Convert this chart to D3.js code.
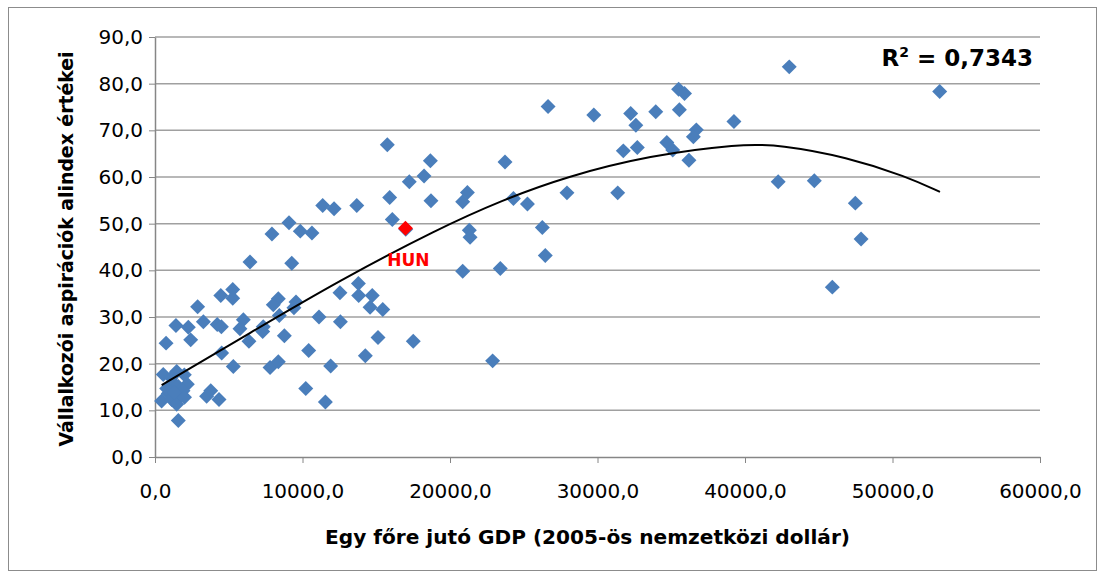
<!DOCTYPE html>
<html>
<head>
<meta charset="utf-8">
<script src="https://cdn.jsdelivr.net/npm/d3@7"></script>
<style>
  body { margin: 0; background: #fff; }
  svg text { font-family: "DejaVu Sans", sans-serif; }
</style>
</head>
<body>
<svg id="chart" width="1103" height="578"></svg>
<script>
// GDP per capita (x) and aspiration sub-index (y)
var gdp = [43000, 53200, 35500, 35900, 26650, 29750, 32250, 33950, 35550, 32600,
    39250, 36700, 36500, 34700, 35100, 31750, 32700, 36200, 23730, 42250,
    44700, 47480, 47870, 45920, 21180, 20860, 24300, 25250, 27930, 31370,
    21310, 21360, 26260, 26460, 20860, 23410, 22890,
    15750, 18670, 18240, 17240, 15910, 18710, 11370, 12140, 13680, 16090,
    17000, 9085, 7930, 9850, 10640, 6440, 9270, 13790, 12540, 13810,
    14730, 14580, 15440, 11120, 12570, 15120, 17510, 10420, 14260, 11910,
    10220, 11550,
    5270, 5270, 8360, 8020, 9560, 9420, 8430, 5990, 5760, 7340,
    7300, 6370, 8770, 5310, 7800, 8360, 4460, 2890, 1420, 2260,
    3280, 4220, 4500, 2420, 750, 4520, 560, 1470, 1990, 2190,
    450, 900, 1130, 1470, 1810, 1580, 1240, 790, 3500, 3780,
    4340, 1580, 1100, 1900, 1300, 2000];
var aspiration = [83.6, 78.3, 78.8, 77.9, 75.1, 73.3, 73.6, 74.0, 74.4, 71.1,
    71.9, 70.1, 68.6, 67.4, 65.8, 65.6, 66.3, 63.6, 63.2, 59.0,
    59.2, 54.4, 46.7, 36.4, 56.7, 54.7, 55.4, 54.2, 56.6, 56.6,
    48.6, 47.1, 49.2, 43.2, 39.8, 40.4, 20.6,
    66.9, 63.5, 60.2, 59.0, 55.6, 54.9, 53.9, 53.2, 53.9, 50.9,
    48.8, 50.2, 47.8, 48.4, 48.0, 41.8, 41.5, 37.2, 35.2, 34.6,
    34.6, 32.1, 31.6, 30.0, 29.0, 25.6, 24.8, 22.8, 21.7, 19.5,
    14.7, 11.8,
    35.9, 34.0, 33.9, 32.6, 33.2, 32.0, 30.3, 29.4, 27.5, 27.9,
    26.9, 24.8, 26.0, 19.4, 19.2, 20.4, 34.6, 32.2, 28.2, 27.8,
    29.0, 28.4, 27.9, 25.1, 24.4, 22.3, 17.7, 18.3, 17.6, 15.6,
    12.0, 13.6, 12.3, 11.3, 13.3, 15.1, 15.9, 14.7, 13.0, 14.2,
    12.3, 7.8, 17.0, 14.2, 13.8, 12.8];

// Hungary
var hunGdp = 16980, hunValue = 49.0;

// trend line
var trendX = [450, 6440, 12540, 19190, 23500, 27900, 33500, 39660, 42380, 46900, 50960, 53220];
var trendY = [15.4, 26.6, 37.9, 48.9, 55.0, 60.1, 64.6, 67.1, 66.9, 64.3, 60.1, 56.8];

var xTicks = [0, 10000, 20000, 30000, 40000, 50000, 60000];
var yTicks = [0, 10, 20, 30, 40, 50, 60, 70, 80, 90];

var svg = d3.select('#chart');
var margin = {top: 37, right: 63, bottom: 121, left: 155};
var width = 1103 - margin.left - margin.right,
    height = 578 - margin.top - margin.bottom;

// outer frame
svg.append('rect')
    .attr('x', 8.5).attr('y', 7.5)
    .attr('width', 1088).attr('height', 563)
    .attr('fill', 'none').attr('stroke', '#8c8c8c').attr('stroke-width', 1);

var g = svg.append('g')
    .attr('transform', 'translate(' + margin.left + ',' + margin.top + ')');

var x = d3.scaleLinear().domain([0, 60000]).range([0, width]);
var y = d3.scaleLinear().domain([0, 90]).range([height, 0]);

var fmt = function(d){ return d3.format('.1f')(d).replace('.', ','); };

// gridlines
g.append('g')
    .selectAll('line')
    .data(yTicks.slice(1))
    .enter()
    .append('line')
        .attr('x1', 0).attr('x2', width)
        .attr('y1', function(d){ return y(d); })
        .attr('y2', function(d){ return y(d); })
        .attr('stroke', '#a0a0a0')
        .attr('stroke-width', 1.5);

// y axis
var yAxis = g.append('g')
    .call(d3.axisLeft(y).tickValues(yTicks).tickFormat(fmt).tickSize(6).tickSizeOuter(0));
yAxis.select('.domain').attr('stroke', '#868686').attr('stroke-width', 1.5);
yAxis.selectAll('line').attr('stroke', '#868686');
yAxis.selectAll('text')
    .attr('x', -12)
    .style('font-family', '"DejaVu Sans", sans-serif')
    .style('font-size', '20px')
    .style('fill', '#000');

// x axis
var xAxis = g.append('g')
    .attr('transform', 'translate(0,' + height + ')')
    .call(d3.axisBottom(x).tickValues(xTicks).tickFormat(fmt).tickSize(6).tickSizeOuter(0));
xAxis.select('.domain').attr('stroke', '#868686').attr('stroke-width', 1.5);
xAxis.selectAll('line').attr('stroke', '#868686');
xAxis.selectAll('text')
    .attr('y', 27)
    .style('font-family', '"DejaVu Sans", sans-serif')
    .style('font-size', '20px')
    .style('fill', '#000');

// points
var diamond = d3.symbol().type(d3.symbolSquare).size(112);
g.selectAll('.pt')
    .data(gdp)
    .enter()
    .append('path')
        .attr('class', 'pt')
        .attr('d', diamond)
        .attr('transform', function(d, i){
            return 'translate(' + x(gdp[i]) + ',' + y(aspiration[i]) + ') rotate(45)';
        })
        .attr('fill', '#4a7ebb');

// trend
var trend = d3.line()
    .x(function(d, i){ return x(trendX[i]); })
    .y(function(d, i){ return y(trendY[i]); })
    .curve(d3.curveBasis);
g.append('path')
    .datum(trendX)
    .attr('d', trend)
    .attr('fill', 'none')
    .attr('stroke', '#000')
    .attr('stroke-width', 2);

// Hungary marker and label
g.append('path')
    .attr('d', diamond)
    .attr('transform', 'translate(' + x(hunGdp) + ',' + y(hunValue) + ') rotate(45)')
    .attr('fill', '#ff0000');
g.append('text')
    .text('HUN')
    .attr('x', x(hunGdp) + 3)
    .attr('y', y(hunValue) + 38)
    .attr('text-anchor', 'middle')
    .style('font-size', '17px')
    .style('font-weight', 'bold')
    .style('fill', '#ff0000');

// R squared
g.append('text')
    .attr('x', width - 7)
    .attr('y', 29)
    .attr('text-anchor', 'end')
    .style('font-size', '23px')
    .style('font-weight', 'bold')
    .html('R<tspan dy="-9" font-size="14px">2</tspan><tspan dy="9"> = 0,7343</tspan>');

// axis titles
svg.append('text')
    .text('Egy főre jutó GDP (2005-ös nemzetközi dollár)')
    .attr('x', margin.left + width / 2 - 10)
    .attr('y', 544)
    .attr('text-anchor', 'middle')
    .attr('textLength', 525)
    .attr('lengthAdjust', 'spacingAndGlyphs')
    .style('font-size', '19px')
    .style('font-weight', 'bold');

svg.append('text')
    .text('Vállalkozói aspirációk alindex értékei')
    .attr('transform', 'translate(73,' + (margin.top + height / 2 + 2) + ') rotate(-90)')
    .attr('text-anchor', 'middle')
    .attr('textLength', 395)
    .attr('lengthAdjust', 'spacingAndGlyphs')
    .style('font-size', '19px')
    .style('font-weight', 'bold');
</script>
</body>
</html>
